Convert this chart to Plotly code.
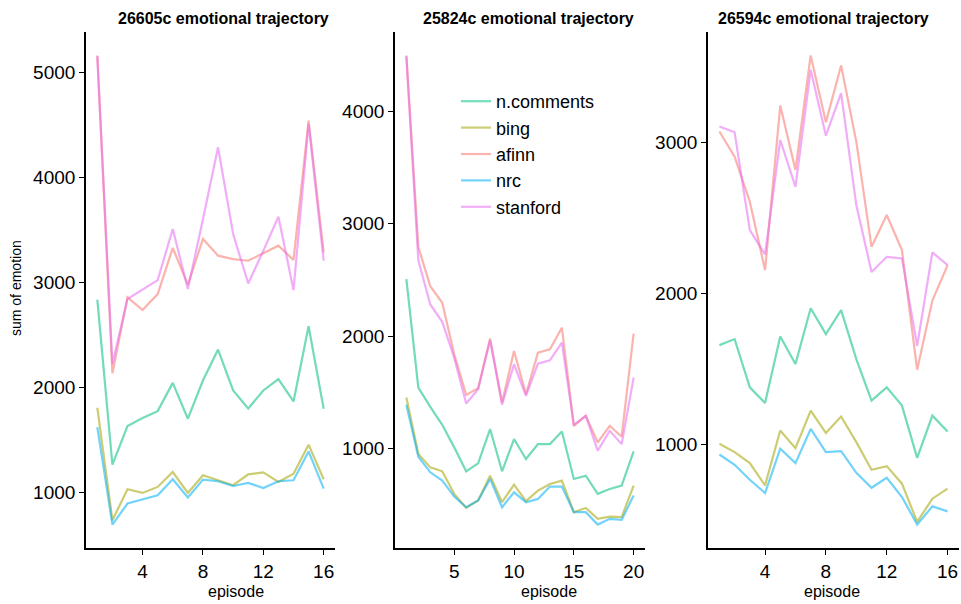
import plotly.graph_objects as go

# ---------------- data ----------------
series_names = ["n.comments", "bing", "afinn", "nrc", "stanford"]
series_colors = ["#00BF7D", "#A3A500", "#F8766D", "#00B0F6", "#E76BF3"]
panel_titles = ["26605c emotional trajectory", "25824c emotional trajectory", "26594c emotional trajectory"]

ep_26605 = list(range(1, 17))
ncom_26605 = [2835, 1266, 1633, 1709, 1775, 2044, 1703, 2066, 2361, 1972, 1800, 1972, 2079, 1867, 2582, 1797]
bing_26605 = [1807, 737, 1032, 997, 1054, 1196, 997, 1165, 1117, 1070, 1174, 1193, 1101, 1180, 1456, 1127]
afinn_26605 = [5159, 2136, 2858, 2737, 2889, 3327, 2979, 3413, 3254, 3222, 3206, 3276, 3349, 3213, 4540, 3286]
nrc_26605 = [1623, 696, 896, 937, 975, 1127, 953, 1123, 1108, 1063, 1092, 1044, 1108, 1117, 1392, 1038]
stan_26605 = [5150, 2225, 2842, 2930, 3022, 3508, 2937, 3600, 4286, 3460, 2990, 3300, 3625, 2927, 4508, 3206]

ep_25824 = list(range(1, 21))
ncom_25824 = [2507, 1541, 1370, 1210, 1009, 796, 867, 1172, 796, 1083, 905, 1038, 1038, 1151, 728, 757, 595, 639, 669, 973]
bing_25824 = [1453, 950, 831, 796, 595, 470, 536, 757, 521, 678, 530, 624, 683, 713, 432, 470, 373, 393, 388, 669]
afinn_25824 = [4498, 2792, 2444, 2296, 1837, 1476, 1536, 1979, 1408, 1867, 1482, 1852, 1882, 2074, 1201, 1290, 1053, 1201, 1104, 2021]
nrc_25824 = [1388, 926, 787, 713, 571, 476, 536, 728, 476, 609, 521, 550, 660, 660, 432, 432, 322, 373, 364, 580]
stan_25824 = [4490, 2674, 2281, 2127, 1808, 1399, 1527, 1962, 1388, 1749, 1467, 1754, 1784, 1941, 1210, 1290, 979, 1157, 1038, 1630]

ep_26594 = list(range(1, 17))
ncom_26594 = [1659, 1699, 1380, 1277, 1716, 1534, 1903, 1732, 1890, 1567, 1292, 1380, 1259, 914, 1193, 1088]
bing_26594 = [1007, 952, 879, 732, 1095, 978, 1226, 1079, 1187, 1018, 835, 859, 743, 490, 644, 710]
afinn_26594 = [3071, 2905, 2607, 2155, 3243, 2817, 3574, 3132, 3508, 3004, 2309, 2519, 2287, 1497, 1954, 2188]
nrc_26594 = [936, 868, 769, 681, 974, 879, 1105, 952, 958, 815, 716, 782, 655, 473, 593, 560]
stan_26594 = [3104, 3066, 2419, 2258, 3015, 2706, 3479, 3044, 3325, 2585, 2143, 2243, 2232, 1655, 2272, 2188]

x_tickvals = [[4, 8, 12, 16], [5, 10, 15, 20], [4, 8, 12, 16]]
y_tickvals = [[1000, 2000, 3000, 4000, 5000], [1000, 2000, 3000, 4000], [1000, 2000, 3000]]

panels = [
    (ep_26605, [ncom_26605, bing_26605, afinn_26605, nrc_26605, stan_26605]),
    (ep_25824, [ncom_25824, bing_25824, afinn_25824, nrc_25824, stan_25824]),
    (ep_26594, [ncom_26594, bing_26594, afinn_26594, nrc_26594, stan_26594]),
]

# ---------------- layout geometry (pixels) ----------------
W, H = 961, 604
x_px = [(86, 335), (395, 645), (708, 959)]
y_top, y_bot = 32, 548
title_cx = [223, 528, 823]
xtitle_cx = [236, 549, 832]

FONT = "Liberation Sans, Arial, sans-serif"

fig = go.Figure()
layout = dict(
    width=W, height=H, margin=dict(l=0, r=0, t=0, b=0),
    paper_bgcolor="white", plot_bgcolor="white",
    font=dict(family=FONT, color="black"),
    showlegend=True,
    legend=dict(x=456 / W, y=1 - 83 / H, xanchor="left", yanchor="top",
                font=dict(size=18, family=FONT, color="black"),
                bgcolor="rgba(0,0,0,0)", tracegroupgap=0, itemwidth=30),
)
annotations = []

for i, (eps, vals) in enumerate(panels):
    sfx = "" if i == 0 else str(i + 1)
    for j, (name, col) in enumerate(zip(series_names, series_colors)):
        fig.add_trace(go.Scatter(
            x=eps, y=vals[j], mode="lines", name=name,
            line=dict(color=col, width=2.2), opacity=0.55,
            xaxis="x" + sfx, yaxis="y" + sfx,
            showlegend=(i == 1), legendgroup=name,
        ))
    allv = [v for s in vals for v in s]
    lo, hi = min(allv), max(allv)
    pad = 0.05 * (hi - lo)
    xlo, xhi = min(eps), max(eps)
    xpad = 0.05 * (xhi - xlo)
    axis_common = dict(
        showline=True, linecolor="black", linewidth=1.6, mirror=False,
        showgrid=False, zeroline=False, ticks="outside", ticklen=5,
        tickwidth=1.4, tickcolor="black",
        tickfont=dict(size=19, family=FONT, color="black"),
    )
    layout["xaxis" + sfx] = dict(
        axis_common, domain=[x_px[i][0] / W, x_px[i][1] / W],
        range=[xlo - xpad, xhi + xpad], tickvals=x_tickvals[i],
        anchor="y" + sfx,
    )
    layout["yaxis" + sfx] = dict(
        axis_common, domain=[1 - y_bot / H, 1 - y_top / H],
        range=[lo - pad, hi + pad], tickvals=y_tickvals[i],
        anchor="x" + sfx,
    )
    annotations.append(dict(
        text="<b>" + panel_titles[i] + "</b>", xref="paper", yref="paper",
        x=title_cx[i] / W, y=1 - 19 / H, xanchor="center", yanchor="middle",
        showarrow=False, font=dict(size=16, family=FONT, color="black"),
    ))
    annotations.append(dict(
        text="episode", xref="paper", yref="paper",
        x=xtitle_cx[i] / W, y=1 - 591 / H, xanchor="center", yanchor="middle",
        showarrow=False, font=dict(size=16, family=FONT, color="black"),
    ))

annotations.append(dict(
    text="sum of emotion", xref="paper", yref="paper", x=16 / W, y=1 - 288 / H,
    xanchor="center", yanchor="middle", textangle=-90, showarrow=False,
    font=dict(size=14, family=FONT, color="black"),
))
layout["annotations"] = annotations
fig.update_layout(**layout)
fig.write_html("out.html")
